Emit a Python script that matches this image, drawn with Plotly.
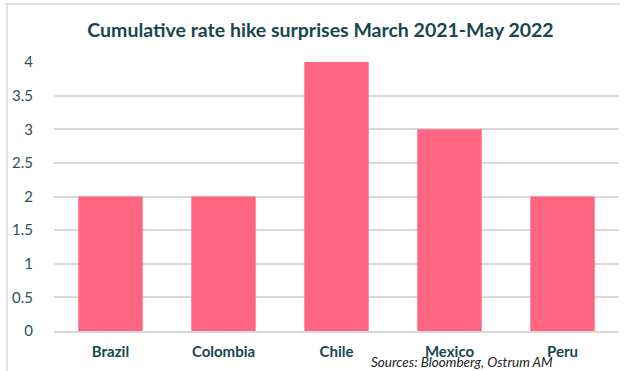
import plotly.graph_objects as go

countries = ["Brazil", "Colombia", "Chile", "Mexico", "Peru"]
surprises = [2, 2, 4, 3, 2]
y_ticks = [0, 0.5, 1, 1.5, 2, 2.5, 3, 3.5, 4]
y_ticklabels = ["0", "0.5", "1", "1.5", "2", "2.5", "3", "3.5", "4"]

W, H = 628, 371
L, R, T, B = 54, 9, 62, 40
pw, ph = W - L - R, H - T - B

fig = go.Figure(go.Bar(
    x=countries, y=surprises,
    marker=dict(color="#FF6480", line=dict(width=0)),
))

fig.update_layout(
    width=W, height=H,
    margin=dict(l=L, r=R, t=T, b=B),
    paper_bgcolor="white", plot_bgcolor="white",
    bargap=0.43,
    showlegend=False,
    font=dict(family="Lato", color="#2f4f5a"),
    title=dict(text="<b>Cumulative rate hike surprises March 2021-May 2022</b>",
               x=(88 + 553) / 2 / W, xanchor="center", y=1 - 30 / H, yanchor="middle",
               font=dict(size=19.5, color="#174652", family="Lato")),
    xaxis=dict(showline=True, linecolor="#d9d9d9", linewidth=2, ticks="",
               tickfont=dict(size=15, color="#174652", family="Lato", weight="bold"),
               ticklabelstandoff=6,
               showgrid=False),
    yaxis=dict(range=[0, 4], tickvals=y_ticks, ticktext=y_ticklabels,
               showgrid=True, gridcolor="#d9d9d9", gridwidth=1.5,
               zeroline=False, ticks="", ticklabelstandoff=20,
               tickfont=dict(size=15, color="#2f4f5a")),
    annotations=[dict(text="<i>Sources: Bloomberg, Ostrum AM</i>",
                      xref="paper", yref="paper",
                      x=(369 - L) / pw, y=-(362 - (H - B)) / ph,
                      xanchor="left", yanchor="middle", showarrow=False,
                      font=dict(size=13.5, color="#222222", family="Lato"))],
    shapes=[
        dict(type="line", xref="paper", yref="paper",
             x0=(5 - L) / pw, x1=(620 - L) / pw,
             y0=(H - B - 4) / ph, y1=(H - B - 4) / ph,
             line=dict(color="#d9d9d9", width=1.5)),
        dict(type="line", xref="paper", yref="paper",
             x0=(7 - L) / pw, x1=(7 - L) / pw,
             y0=(H - B - 4) / ph, y1=(H - B - 371) / ph,
             line=dict(color="#d9d9d9", width=1.5)),
    ],
)

fig.write_html("out.html")
